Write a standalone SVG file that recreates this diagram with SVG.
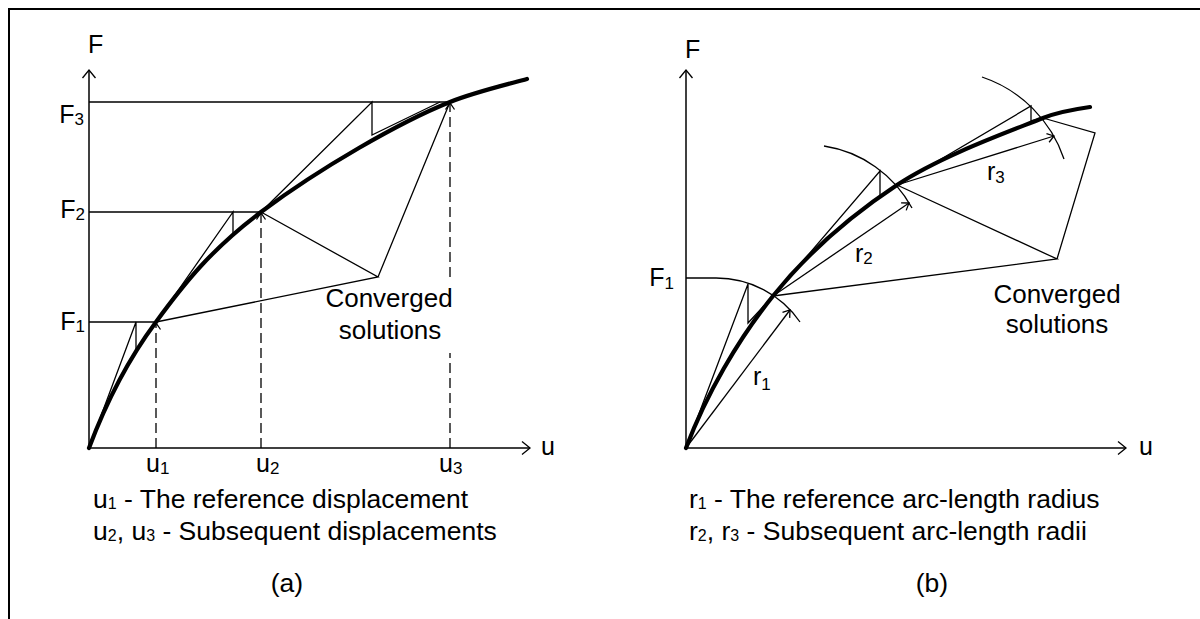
<svg xmlns="http://www.w3.org/2000/svg" width="1200" height="619" viewBox="0 0 1200 619">
<style>
.t{font-family:"Liberation Sans",Arial,sans-serif;font-size:25px;fill:#000}
.b{font-family:"Liberation Sans",Arial,sans-serif;font-size:26px;fill:#000}
.c{font-family:"Liberation Sans",Arial,sans-serif;font-size:26.5px;fill:#000}
.s{font-size:17px}
.sb{font-size:16px}
.ln{fill:none;stroke:#000;stroke-width:1.3}
.ax{fill:none;stroke:#000;stroke-width:1.5}
.dash{fill:none;stroke:#000;stroke-width:1.3;stroke-dasharray:10,5}
.curve{fill:none;stroke:#000;stroke-width:4.2;stroke-linecap:round}
.mk{fill:none;stroke:#000;stroke-width:1.3;stroke-dasharray:none}
</style>
<defs>
<marker id="ah" viewBox="-10 -6 12 12" refX="0" refY="0" markerWidth="12" markerHeight="12" markerUnits="userSpaceOnUse" orient="auto" overflow="visible"><path class="mk" d="M-8,-6.5 L0,0 L-8,6.5"/></marker>
<marker id="sa" viewBox="-10 -6 12 12" refX="0" refY="0" markerWidth="12" markerHeight="12" markerUnits="userSpaceOnUse" orient="auto" overflow="visible"><path class="mk" d="M-6.5,-4.5 L0,0 L-6.5,4.5"/></marker>
</defs>
<rect width="1200" height="619" fill="#fff"/>
<path id="frame" d="M9,619 V9 H1200" fill="none" stroke="#000" stroke-width="2"/>

<g id="panel-a">
 <g id="a-axes">
  <path class="ax" d="M89,448 V70" marker-end="url(#ah)"/>
  <path class="ax" d="M89,448 H530" marker-end="url(#ah)"/>
  <text class="t" x="88" y="53">F</text>
  <text class="t" x="541" y="455">u</text>
 </g>
 <g id="a-levels">
  <path class="ln" d="M89,102 H450 M89,212 H261 M89,322 H156"/>
  <text class="t" x="84" y="123" text-anchor="end">F<tspan class="s" dy="2">3</tspan></text>
  <text class="t" x="85" y="218" text-anchor="end">F<tspan class="s" dy="2">2</tspan></text>
  <text class="t" x="85" y="330" text-anchor="end">F<tspan class="s" dy="2">1</tspan></text>
 </g>
 <g id="a-connectors">
  <path class="ln" d="M89,448 L136,322 V351 L156,322"/>
  <path class="ln" d="M156,322 L233,212 V235 L261,212"/>
  <path class="ln" d="M261,212 L372,102 V135 L440,102"/>
  <path class="ln" d="M156,322 L378,277 L261,212 M378,277 L450,102"/>
  <path class="dash" d="M156,448 V323" marker-end="url(#sa)"/>
  <path class="dash" d="M261,448 V213" marker-end="url(#sa)"/>
  <path class="dash" d="M450,277 V103" marker-end="url(#sa)"/>
  <path class="dash" d="M450,448 V353"/>
 </g>
 <path id="a-curve" class="curve" d="M89,448 C107,400 127,361 156,322 C184.7,282.7 212,248.7 261,212 C320,168 400,122 450,102 C475,92 507,84.5 527,79"/>
 <g id="a-labels">
  <text class="t" x="146" y="472">u<tspan class="s" dy="2">1</tspan></text>
  <text class="t" x="256" y="472">u<tspan class="s" dy="2">2</tspan></text>
  <text class="t" x="439" y="472">u<tspan class="s" dy="2">3</tspan></text>
  <text class="b" x="389" y="307" text-anchor="middle">Converged</text>
  <text class="b" x="390" y="339" text-anchor="middle">solutions</text>
 </g>
 <g id="a-caption">
  <text class="c" x="93" y="508">u<tspan class="sb" dy="1">1</tspan><tspan dy="-1"> - The reference displacement</tspan></text>
  <text class="c" x="93" y="540">u<tspan class="sb" dy="1">2</tspan><tspan dy="-1">, u</tspan><tspan class="sb" dy="1">3</tspan><tspan dy="-1"> - Subsequent displacements</tspan></text>
  <text class="c" x="287" y="592" text-anchor="middle">(a)</text>
 </g>
</g>

<g id="panel-b">
 <g id="b-axes">
  <path class="ax" d="M686,448 V70" marker-end="url(#ah)"/>
  <path class="ax" d="M686,448 H1126" marker-end="url(#ah)"/>
  <text class="t" x="685" y="58">F</text>
  <text class="t" x="1139" y="455">u</text>
  <text class="t" x="674" y="286" text-anchor="end">F<tspan class="s" dy="3">1</tspan></text>
 </g>
 <g id="b-arcs">
  <path class="ln" d="M686,278 H716 A102,102 0 0 1 800,322"/>
  <path class="ln" d="M824,146 A121,121 0 0 1 912,208"/>
  <path class="ln" d="M982,77 A130,130 0 0 1 1064,159"/>
 </g>
 <g id="b-connectors">
  <path class="ln" d="M686,448 L748,284 V323 L773,296"/>
  <path class="ln" d="M773,296 L880,171 V195"/>
  <path class="ln" d="M897,185 L1031,106 V121 L1043,118"/>
  <path class="ln" d="M773,296 L1057,259 L897,185 M1057,259 L1095,133 L1043,118"/>
  <path class="ln" d="M686,448 L790,310" marker-end="url(#sa)"/>
  <path class="ln" d="M773,296 L909,203" marker-end="url(#sa)"/>
  <path class="ln" d="M897,185 L1054,136" marker-end="url(#sa)"/>
 </g>
 <path id="b-curve" class="curve" d="M686,448 C706,395 737.8,339.8 773,296 C808.2,252.2 852,214.7 897,185 C942,155.3 1010.8,131 1043,118 C1059,111.5 1076,109 1090,107"/>
 <g id="b-labels">
  <text class="t" x="753" y="385">r<tspan class="s" dy="5">1</tspan></text>
  <text class="t" x="855" y="262">r<tspan class="s" dy="2">2</tspan></text>
  <text class="t" x="987" y="180">r<tspan class="s" dy="3">3</tspan></text>
  <text class="b" x="1057" y="303" text-anchor="middle">Converged</text>
  <text class="b" x="1057" y="333" text-anchor="middle">solutions</text>
 </g>
 <g id="b-caption">
  <text class="c" x="689" y="508">r<tspan class="sb" dy="1">1</tspan><tspan dy="-1"> - The reference arc-length radius</tspan></text>
  <text class="c" x="689" y="540">r<tspan class="sb" dy="1">2</tspan><tspan dy="-1">, r</tspan><tspan class="sb" dy="1">3</tspan><tspan dy="-1"> - Subsequent arc-length radii</tspan></text>
  <text class="c" x="932" y="592" text-anchor="middle">(b)</text>
 </g>
</g>
</svg>
